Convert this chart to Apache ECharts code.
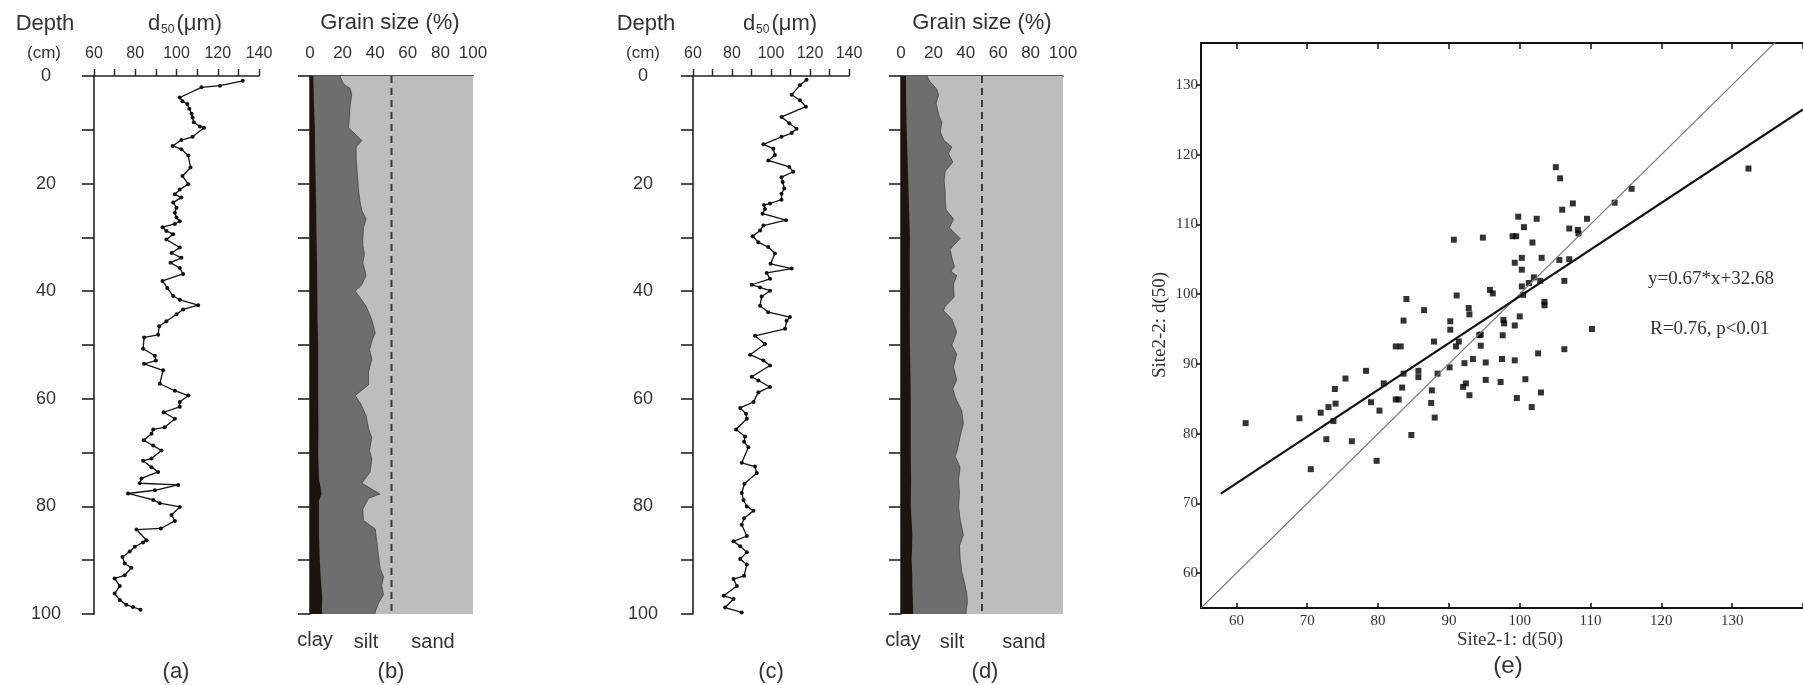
<!DOCTYPE html>
<html><head><meta charset="utf-8">
<script src="https://cdn.jsdelivr.net/npm/echarts@6/dist/echarts.min.js"></script>
<style>html,body{margin:0;padding:0;background:#fff}#c{width:1803px;height:685px}</style>
</head><body><div id="c"></div>
<script>
// ---------- Panel (a): Site 2-1 d50 profile ----------
const depthA = [0.9,1.8,2.1,4.0,4.7,5.2,6.1,7.0,7.7,8.6,9.4,9.6,11.3,11.9,13.0,13.6,14.8,17.0,18.6,20.1,21.1,22.0,22.6,23.5,24.5,25.4,26.3,27.0,27.5,28.1,28.8,29.4,30.4,31.9,32.9,33.8,34.7,35.7,36.8,38.1,39.4,40.9,41.6,42.6,43.4,44.3,45.6,46.5,48.1,48.6,50.7,52.0,52.9,53.5,54.7,57.2,58.5,59.4,60.6,61.5,62.5,63.7,65.3,65.7,66.5,67.7,68.7,69.6,71.1,71.5,72.7,73.6,74.8,75.7,76.0,77.0,77.6,78.8,79.4,80.1,81.6,82.7,84.1,84.3,86.3,86.7,87.5,88.4,89.4,90.6,91.4,92.8,93.4,94.8,96.2,97.4,98.3,98.7,99.2];
const d50A = [132.1,121.1,112.1,101.6,102.9,105.2,106.2,107.3,107.8,108.4,111.3,113.3,107.8,102.4,98.1,102.4,105.7,106.8,102.9,105.7,101.6,99.2,102.4,98.4,100.0,99.2,100.0,101.6,99.2,93.2,95.1,98.4,95.1,101.6,97.6,102.4,97.1,101.6,103.2,93.2,95.5,98.4,101.6,110.5,103.2,100.0,95.1,91.6,91.1,84.3,83.8,89.5,90.0,84.3,93.5,91.9,99.2,105.7,101.6,101.6,93.8,99.2,94.3,88.7,87.9,84.1,88.7,92.7,87.9,83.8,87.9,91.1,83.0,82.2,100.8,89.5,76.5,88.7,91.9,101.6,97.6,99.2,92.4,80.6,85.4,83.8,79.8,77.3,73.8,74.9,78.1,74.9,70.0,72.5,70.0,72.5,75.7,78.9,82.5];

// ---------- Panel (c): Site 2-2 d50 profile ----------
const depthC = [0.7,1.7,3.5,4.5,5.7,7.6,8.8,9.8,10.6,11.3,12.7,13.5,14.7,15.7,16.9,17.8,18.8,19.7,20.9,21.9,23.0,23.7,24.0,24.7,25.6,26.8,27.8,28.7,29.8,30.9,31.8,33.0,34.9,35.8,36.6,37.7,38.8,39.3,39.9,41.0,42.7,43.9,44.8,45.5,47.0,48.3,49.8,51.8,52.9,53.8,55.9,56.6,57.8,58.8,60.6,61.7,62.8,63.7,65.7,67.0,68.0,69.0,71.9,72.6,73.8,75.8,77.5,78.8,80.0,80.8,82.2,83.4,85.5,86.5,87.4,88.5,89.8,90.8,92.9,93.5,94.8,96.6,97.2,98.8,99.7];
const d50C = [118.2,114.8,110.6,114.8,117.9,105.4,109.4,113.1,110.6,105.4,96.1,101.2,102.0,98.6,109.4,111.4,105.4,106.0,106.8,105.4,105.4,99.5,96.4,96.9,95.7,107.7,96.1,94.4,90.6,93.5,98.6,102.0,99.8,110.6,97.8,99.5,90.1,94.4,99.5,95.2,94.4,98.6,109.7,108.0,107.2,91.8,96.9,89.3,96.1,99.5,90.1,93.5,99.5,93.5,91.0,84.2,87.2,87.6,82.1,86.7,86.2,88.4,85.0,91.8,92.7,86.4,85.0,85.9,87.6,91.0,86.2,85.0,87.6,80.8,84.2,87.6,84.2,87.6,86.2,80.8,82.5,75.7,80.8,76.5,85.0];

// ---------- Panel (b): Site 2-1 grain size (%) ----------
const depthBSilt = [0,1.5,2.3,3.5,5.5,7.5,9.6,10.8,12.0,13.2,15.2,18.5,20.9,23.4,25.0,26.6,28.2,30.3,31.5,33.1,34.7,37.1,38.8,40.0,41.2,42.8,45.3,47.7,49.3,50.9,52.6,55.0,57.4,59.4,60.7,63.1,65.5,67.2,69.6,71.2,73.6,75.7,77.7,78.5,80.5,82.6,84.2,86.6,89.1,91.5,93.1,94.7,96.4,98.0,99.6,100];
const clayPlusSiltB = [18.4,20.5,24.6,25.6,24.6,24.2,23.6,27.7,31.8,28.3,28.3,29.1,29.7,30.7,31.8,34.4,32.8,32.4,32.4,33.4,32.4,34.4,31.8,27.7,30.7,34.4,37.9,40.0,37.9,36.5,37.9,35.9,35.9,27.7,30.7,34.4,35.9,37.9,36.5,37.9,36.9,31.8,43.0,35.9,32.4,32.8,40.0,41.0,42.0,43.0,45.1,44.0,45.1,42.0,40.0,40.0];
const depthBClay = [0,5,10,15,20,25,30,35,40,45,50,55,60,65,70,75,76.5,77.7,79,82,85,88,90,93,95,97,99,100];
const clayB = [2.0,2.4,3.0,3.2,3.5,3.8,4.0,4.3,4.5,4.6,5.0,5.0,5.0,5.2,5.0,5.5,6.5,7.0,5.5,5.5,5.5,5.8,6.0,6.5,7.0,7.5,7.3,7.5];

// ---------- Panel (d): Site 2-2 grain size (%) ----------
const depthDSilt = [0,1.1,2.3,3.5,5.1,7.1,8.7,10.4,12.0,13.2,14.4,16.0,17.7,19.3,21.7,23.3,24.9,26.6,28.2,30.2,32.2,33.8,35.5,36.3,37.1,38.7,41.1,42.8,43.6,45.2,47.6,50.0,51.7,54.1,56.5,58.1,59.8,62.2,64.6,67.0,69.5,70.7,72.7,75.1,77.6,80.0,82.4,85.3,87.3,89.7,92.1,94.6,96.2,97.8,99.4,100];
const clayPlusSiltD = [16.0,18.0,21.7,23.2,21.7,23.2,25.2,24.2,26.6,31.4,29.3,32.0,27.3,26.6,27.3,27.3,27.9,32.4,29.9,36.5,30.3,31.4,33.0,30.7,34.4,32.4,32.8,27.3,26.2,31.4,34.4,31.4,34.4,32.4,34.4,32.0,33.6,37.5,38.5,36.5,34.8,33.4,36.5,35.5,36.1,35.5,36.5,38.5,36.1,36.5,37.5,39.5,40.6,41.0,40.2,40.2];
const depthDClay = [0,5,10,15,20,25,30,35,40,45,50,55,60,65,70,75,80,85,88,90,93,95,97,100];
const clayD = [3.0,3.2,3.5,4.0,4.5,5.0,5.5,5.3,5.5,5.4,5.5,5.8,6.0,6.0,6.0,6.2,6.0,7.0,6.8,6.5,7.0,7.0,7.3,7.5];

const sandLimit = 50;          // silt / sand boundary (%)
const grainRange = [0, 100];   // % axis
const depthRange = [0, 100];   // cm

// ---------- Panel (e): d50 Site2-1 vs Site2-2 ----------
const site21 = [105.1,105.7,115.8,113.4,132.3,106.0,107.5,109.5,107.0,108.2,108.3,99.8,102.4,100.6,99.0,99.5,101.8,90.7,94.8,99.3,100.3,103.1,105.6,107.0,100.3,102.0,101.3,102.9,106.3,100.3,100.5,95.8,96.2,91.1,84.0,103.5,103.5,86.5,92.8,92.9,100.0,83.6,90.2,90.2,97.7,97.8,99.3,110.2,94.3,94.5,97.6,87.9,91.4,91.0,94.5,82.5,83.2,102.6,106.3,93.4,97.5,99.3,95.2,92.2,90.1,88.4,85.7,85.7,83.6,78.3,80.8,75.4,73.9,83.4,87.6,92.0,92.4,95.2,97.3,100.8,92.9,99.6,103.0,101.7,82.5,82.9,79.0,80.2,87.5,74.0,73.7,71.9,73.0,68.9,61.3,88.0,84.7,72.7,76.3,79.8,70.5];
const site22 = [118.2,116.6,115.1,113.1,118.0,112.1,113.0,110.8,109.4,109.2,108.7,111.1,110.8,109.6,108.3,108.3,107.4,107.8,108.1,104.5,105.2,105.2,104.9,105.0,103.5,102.4,101.6,101.9,101.9,101.1,99.9,100.6,100.1,99.8,99.3,98.9,98.4,97.7,98.0,97.1,96.8,96.2,96.1,94.9,96.3,95.8,95.5,95.0,94.1,94.2,94.1,93.2,93.2,92.5,92.6,92.5,92.5,91.5,92.1,90.7,90.7,90.5,90.2,90.1,89.5,88.6,89.0,88.1,88.6,89.0,87.2,87.9,86.4,86.6,86.2,86.7,87.2,87.7,87.4,87.8,85.5,85.1,85.9,83.8,84.9,84.9,84.5,83.3,84.4,84.3,81.8,83.0,83.8,82.2,81.5,82.3,79.8,79.2,78.9,76.1,74.9];
const fitSlope = 0.67, fitIntercept = 32.68;
const fitXRange = [57.8, 140];
const oneToOne = [55, 140];
const eTicks = [60,70,80,90,100,110,120,130,140];
const eYTicks = [60,70,80,90,100,110,120,130];

// ---------- helpers ----------
const SANS = '"Liberation Sans", Arial, sans-serif';
const SERIF = '"Liberation Serif", "Times New Roman", serif';
const TXT = '#333';
const pair = (xs, ys) => xs.map((x, i) => [x, ys[i]]);

function areaSeries(gi, xs, ys, fill) {
  return {
    type: 'custom', xAxisIndex: gi, yAxisIndex: gi, silent: true, animation: false,
    data: [[xs[0], ys[0]]], clip: false,
    renderItem: function (params, api) {
      const pts = [api.coord([grainRange[0], ys[0]])];
      for (let i = 0; i < xs.length; i++) pts.push(api.coord([xs[i], ys[i]]));
      pts.push(api.coord([grainRange[0], ys[ys.length - 1]]));
      return { type: 'polygon', shape: { points: pts }, style: { fill: fill, stroke: null } };
    }
  };
}
function sandSeries(gi) {
  return areaSeries(gi, [grainRange[1], grainRange[1]], [depthRange[0], depthRange[1]], '#bdbdbd');
}
function grainPanel(gi, dS, vS, dC, vC) {
  return [
    sandSeries(gi),
    areaSeries(gi, vS, dS, '#6e6e6e'),
    areaSeries(gi, vC, dC, '#1c140f'),
    { type: 'line', xAxisIndex: gi, yAxisIndex: gi, silent: true, animation: false, symbol: 'none',
      data: pair(vS, dS), lineStyle: { color: '#2b2b2b', width: 0.8, opacity: 0.75 } },
    { type: 'line', xAxisIndex: gi, yAxisIndex: gi, silent: true, animation: false, symbol: 'none',
      data: [[sandLimit, depthRange[0]], [sandLimit, depthRange[1]]],
      lineStyle: { color: '#3a3a3a', width: 2, type: [7, 5] } }
  ];
}
function profileSeries(gi, ds, vs) {
  return { type: 'line', xAxisIndex: gi, yAxisIndex: gi, silent: true, animation: false,
    data: pair(vs, ds), symbol: 'circle', symbolSize: 4, showSymbol: true,
    lineStyle: { color: '#111', width: 1.3 }, itemStyle: { color: '#111' } };
}
function d50X(gi) {
  return { gridIndex: gi, type: 'value', position: 'top', min: 60, max: 140, interval: 10,
    axisLine: { show: true, lineStyle: { color: '#222', width: 1.6 } },
    axisTick: { show: true, length: 7, lineStyle: { color: '#222', width: 1.4 } },
    axisLabel: { fontSize: 16, color: TXT, fontFamily: SANS, margin: 14,
      formatter: v => (v % 20 === 0 ? String(v) : '') },
    splitLine: { show: false } };
}
function grainX(gi) {
  return { gridIndex: gi, type: 'value', position: 'top', min: 0, max: 100, interval: 20,
    axisLine: { show: true, lineStyle: { color: '#222', width: 1.6 } },
    axisTick: { show: false },
    axisLabel: { fontSize: 17, color: TXT, fontFamily: SANS, margin: 14 },
    splitLine: { show: false } };
}
function depthY(gi, labels, margin) {
  return { gridIndex: gi, type: 'value', inverse: true, min: 0, max: 100, interval: 10,
    offset: labels ? 0 : 5,
    axisLine: { show: true, lineStyle: { color: '#222', width: 1.6 } },
    axisTick: { show: true, length: 12, lineStyle: { color: '#222', width: 1.6 } },
    axisLabel: { show: labels, fontSize: 18, color: TXT, fontFamily: SANS, align: 'center', margin: margin,
      formatter: v => (v % 20 === 0 ? String(v) : '') },
    splitLine: { show: false } };
}
function txt(x, y, text, size, opts) {
  opts = opts || {};
  return { type: 'text', x: x, y: y, rotation: opts.rot || 0, silent: true,
    style: { text: text, fill: opts.fill || TXT, font: (opts.weight || 'normal') + ' ' + size + 'px ' + (opts.family || SANS),
      align: opts.align || 'center', verticalAlign: 'middle', textAlign: opts.align || 'center', textVerticalAlign: 'middle' } };
}
const d50Rich = {
  a: { fontSize: 22, fontFamily: SANS, color: TXT, lineHeight: 24, verticalAlign: 'middle' },
  s: { fontSize: 12, fontFamily: SANS, color: TXT, lineHeight: 24, verticalAlign: 'bottom', padding: [10, 2, 0, 1] }
};
function d50Title(x) {
  return { type: 'text', x: x, y: 24, silent: true,
    style: { text: '{a|d}{s|50}{a|(μm)}', rich: d50Rich, align: 'center', verticalAlign: 'middle', fill: TXT,
      font: '22px ' + SANS } };
}

const chart = echarts.init(document.getElementById('c'), null, { renderer: 'canvas' });
chart.setOption({
  animation: false,
  backgroundColor: '#ffffff',
  grid: [
    { left: 94, top: 76, width: 165, height: 538 },
    { left: 310, top: 76, width: 163, height: 538 },
    { left: 693, top: 76, width: 156, height: 538 },
    { left: 901, top: 76, width: 162, height: 538 },
    { left: 1201, top: 43, width: 649, height: 565 }
  ],
  xAxis: [
    d50X(0), grainX(1), d50X(2), grainX(3),
    { gridIndex: 4, type: 'value', position: 'bottom', min: 55, max: 140,
      axisLine: { show: true, lineStyle: { color: '#111', width: 2 } },
      axisTick: { show: true, inside: true, length: 5, customValues: eTicks, lineStyle: { color: '#111', width: 1.5 } },
      axisLabel: { fontSize: 15, color: TXT, fontFamily: SERIF, margin: 6, customValues: eYTicks },
      splitLine: { show: false } },
    { gridIndex: 4, type: 'value', position: 'top', min: 55, max: 140,
      axisLine: { show: true, lineStyle: { color: '#111', width: 2 } },
      axisTick: { show: true, inside: true, length: 6, customValues: eTicks, lineStyle: { color: '#111', width: 1.5 } },
      axisLabel: { show: false }, splitLine: { show: false } }
  ],
  yAxis: [
    depthY(0, true, 48), depthY(1, false, 0), depthY(2, true, 50), depthY(3, false, 0),
    { gridIndex: 4, type: 'value', min: 55, max: 136,
      axisLine: { show: true, lineStyle: { color: '#111', width: 2 } },
      axisTick: { show: true, length: 4, customValues: eYTicks, lineStyle: { color: '#111', width: 1.5 } },
      axisLabel: { fontSize: 15, color: TXT, fontFamily: SERIF, margin: 3, customValues: eYTicks },
      splitLine: { show: false } }
  ],
  series: [
    profileSeries(0, depthA, d50A),
    ...grainPanel(1, depthBSilt, clayPlusSiltB, depthBClay, clayB),
    profileSeries(2, depthC, d50C),
    ...grainPanel(3, depthDSilt, clayPlusSiltD, depthDClay, clayD),
    { type: 'line', xAxisIndex: 5, yAxisIndex: 4, silent: true, symbol: 'none', animation: false,
      data: [[oneToOne[0], oneToOne[0]], [oneToOne[1], oneToOne[1]]],
      lineStyle: { color: '#777', width: 1.1 } },
    { type: 'line', xAxisIndex: 5, yAxisIndex: 4, silent: true, symbol: 'none', animation: false, clip: true,
      data: fitXRange.map(x => [x, fitSlope * x + fitIntercept]),
      lineStyle: { color: '#111', width: 2.2 } },
    { type: 'scatter', xAxisIndex: 4, yAxisIndex: 4, silent: true, animation: false,
      data: pair(site21, site22), symbol: 'rect', symbolSize: 6, itemStyle: { color: '#000' } }
  ],
  graphic: { elements: [
    txt(45, 24, 'Depth', 22),
    txt(44, 53, '(cm)', 17),
    d50Title(185),
    txt(646, 24, 'Depth', 22),
    txt(643, 53, '(cm)', 17),
    d50Title(780),
    txt(390, 23, 'Grain size (%)', 22),
    txt(982, 23, 'Grain size (%)', 22),
    txt(315, 640, 'clay', 20), txt(366, 642, 'silt', 20), txt(433, 642, 'sand', 20),
    txt(903, 640, 'clay', 20), txt(952, 642, 'silt', 20), txt(1024, 642, 'sand', 20),
    txt(176, 672, '(a)', 22), txt(391, 672, '(b)', 22), txt(771, 672, '(c)', 22), txt(985, 672, '(d)', 22),
    txt(1508, 666, '(e)', 24),
    txt(1510, 640, 'Site2-1: d(50)', 19, { family: SERIF }),
    txt(1160, 325, 'Site2-2: d(50)', 19, { family: SERIF, rot: Math.PI / 2 }),
    txt(1648, 279, 'y=0.67*x+32.68', 19, { family: SERIF, align: 'left' }),
    txt(1650, 329, 'R=0.76, p<0.01', 19, { family: SERIF, align: 'left' })
  ] }
});
</script></body></html>
